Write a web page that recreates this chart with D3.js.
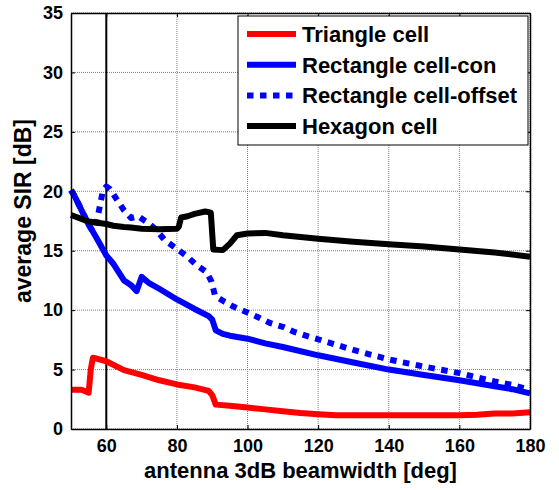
<!DOCTYPE html>
<html>
<head>
<meta charset="utf-8">
<script src="https://cdn.jsdelivr.net/npm/d3@7"></script>
<style>
  body { margin: 0; background: #fff; }
  text { font-family: "Liberation Sans", Arial, sans-serif; font-weight: bold; fill: #000; }
</style>
</head>
<body>
<div id="chart"></div>
<script>
var width = 559,
  height = 490;

var margin = { left: 71, top: 13, right: 29, bottom: 61 };
var w = width - margin.left - margin.right,
  h = height - margin.top - margin.bottom;

// data
var seriesNames = ["Triangle cell", "Rectangle cell-con", "Rectangle cell-offset", "Hexagon cell"];

var triX = [50, 53, 55, 55.6, 56.2, 60, 65, 70, 75, 80, 85, 89, 90, 91, 95, 100, 105, 110, 115, 120, 125, 130, 140, 150, 160, 165, 170, 175, 180];
var triY = [3.3, 3.3, 3.05, 5.0, 6.0, 5.7, 4.95, 4.55, 4.1, 3.75, 3.5, 3.2, 2.85, 2.05, 1.95, 1.8, 1.65, 1.5, 1.35, 1.25, 1.15, 1.15, 1.15, 1.15, 1.15, 1.2, 1.3, 1.3, 1.4];

var conX = [50, 51, 52, 53, 55, 56, 57, 60, 62, 65, 66, 67, 68.6, 70, 72, 75, 80, 85, 89, 90, 91, 93, 95, 100, 105, 110, 120, 130, 140, 150, 160, 170, 175, 180];
var conY = [20.1, 19.6, 19.0, 18.4, 17.2, 16.7, 16.2, 14.6, 13.9, 12.5, 12.3, 12.1, 11.6, 12.8, 12.3, 11.8, 10.9, 10.1, 9.5, 9.2, 8.3, 8.0, 7.85, 7.6, 7.2, 6.9, 6.2, 5.6, 5.0, 4.55, 4.1, 3.6, 3.35, 3.0];

var offX = [50, 51, 52, 53, 55, 56, 57, 58, 59, 60, 61, 63, 65, 67, 69, 72, 74, 76.5, 80, 83, 85.5, 88.4, 89.8, 90.8, 93.5, 96, 100, 103, 106.5, 110, 113, 116.5, 120, 130, 140, 150, 160, 170, 175, 180];
var offY = [20.1, 19.6, 19.0, 18.4, 17.2, 16.7, 17.0, 18.5, 20.0, 20.4, 20.2, 19.3, 18.4, 17.75, 17.9, 17.3, 16.8, 15.9, 15.15, 14.5, 13.8, 13.2, 12.4, 11.2, 10.7, 10.3, 9.8, 9.4, 8.9, 8.6, 8.2, 7.85, 7.55, 6.65, 5.85, 5.25, 4.7, 4.0, 3.7, 3.3];

var hexX = [50, 55, 60, 62, 65, 67, 70, 75, 80, 80.5, 81.2, 83, 85, 88, 89.6, 90.3, 93, 95, 97, 100, 105, 110, 120, 130, 140, 150, 160, 170, 180];
var hexY = [18.0, 17.45, 17.25, 17.1, 17.0, 16.95, 16.85, 16.8, 16.85, 17.0, 17.8, 17.9, 18.1, 18.3, 18.2, 15.1, 15.05, 15.6, 16.3, 16.45, 16.5, 16.3, 16.0, 15.75, 15.55, 15.35, 15.1, 14.85, 14.5];

var xTicks = [60, 80, 100, 120, 140, 160, 180];
var yTicks = [0, 5, 10, 15, 20, 25, 30, 35];

var series = [
  { name: seriesNames[0], x: triX, y: triY, color: "#ff0000", dash: null },
  { name: seriesNames[1], x: conX, y: conY, color: "#0000ff", dash: null },
  { name: seriesNames[2], x: offX, y: offY, color: "#0000ff", dash: "6.5,6.5" },
  { name: seriesNames[3], x: hexX, y: hexY, color: "#000000", dash: null }
];

var xScale = d3.scaleLinear().domain([50, 180]).range([0, w]);
var yScale = d3.scaleLinear().domain([0, 35]).range([h, 0]);

var svg = d3.select("#chart")
  .append("svg")
  .attr("width", width)
  .attr("height", height)
  .style("background", "#fff");

var g = svg.append("g")
  .attr("transform", "translate(" + margin.left + "," + margin.top + ")");

g.append("defs").append("clipPath").attr("id", "clip")
  .append("rect").attr("x", -3).attr("width", w + 6).attr("height", h);

// grid
g.selectAll(".gx").data(xTicks).enter().append("line")
  .attr("x1", function(d) { return xScale(d); })
  .attr("x2", function(d) { return xScale(d); })
  .attr("y1", 0).attr("y2", h)
  .attr("stroke", "#808080").attr("stroke-width", 1).attr("stroke-dasharray", "1,1");
g.selectAll(".gy").data(yTicks).enter().append("line")
  .attr("y1", function(d) { return yScale(d); })
  .attr("y2", function(d) { return yScale(d); })
  .attr("x1", 0).attr("x2", w)
  .attr("stroke", "#808080").attr("stroke-width", 1).attr("stroke-dasharray", "1,1");

// black marker line at 60 deg
g.append("line")
  .attr("x1", xScale(60)).attr("x2", xScale(60))
  .attr("y1", 0).attr("y2", h)
  .attr("stroke", "#000").attr("stroke-width", 2);

// curves
var line = d3.line()
  .x(function(d) { return xScale(d[0]); })
  .y(function(d) { return yScale(d[1]); });

series.forEach(function(s) {
  var pts = s.x.map(function(v, i) { return [v, s.y[i]]; });
  var p = g.append("path")
    .datum(pts)
    .attr("clip-path", "url(#clip)")
    .attr("d", line)
    .attr("fill", "none")
    .attr("stroke", s.color)
    .attr("stroke-width", 6)
    .attr("stroke-linejoin", "round");
  if (s.dash) p.attr("stroke-dasharray", s.dash);
});

// axes box + ticks (all four sides, inward)
var xAxisB = d3.axisBottom(xScale).tickValues(xTicks).tickSizeInner(-4).tickSizeOuter(0).tickPadding(10);
var xAxisT = d3.axisTop(xScale).tickValues(xTicks).tickSizeInner(-4).tickSizeOuter(0).tickFormat("");
var yAxisL = d3.axisLeft(yScale).tickValues(yTicks).tickSizeInner(-4).tickSizeOuter(0).tickPadding(8);
var yAxisR = d3.axisRight(yScale).tickValues(yTicks).tickSizeInner(-4).tickSizeOuter(0).tickFormat("");

function styleAxis(sel) {
  sel.select(".domain").attr("stroke", "#000").attr("stroke-width", 1.5);
  sel.selectAll(".tick line").attr("stroke", "#000");
  sel.selectAll("text").attr("font-size", "18px").attr("font-family", "Liberation Sans, Arial, sans-serif").attr("font-weight", "bold").attr("fill", "#000");
}

g.append("g").attr("transform", "translate(0," + h + ")").call(xAxisB).call(styleAxis);
g.append("g").call(xAxisT).call(styleAxis);
g.append("g").call(yAxisL).call(styleAxis);
g.append("g").attr("transform", "translate(" + w + ",0)").call(yAxisR).call(styleAxis);

// axis titles
svg.append("text")
  .attr("x", margin.left + w / 2)
  .attr("y", 478)
  .attr("text-anchor", "middle")
  .attr("font-size", "22px")
  .text("antenna 3dB beamwidth [deg]");

svg.append("text")
  .attr("transform", "translate(31," + 211 + ") rotate(-90)")
  .attr("text-anchor", "middle")
  .attr("font-size", "23px")
  .text("average SIR [dB]");

// legend
var legend = svg.append("g").attr("transform", "translate(238,16)");
legend.append("rect")
  .attr("width", 290).attr("height", 129)
  .attr("fill", "#fff").attr("stroke", "#000").attr("stroke-width", 1);

var rows = legend.selectAll(".row").data(series).enter().append("g")
  .attr("transform", function(d, i) { return "translate(0," + (18 + i * 30.7) + ")"; });

rows.append("line")
  .attr("x1", 9).attr("x2", 58)
  .attr("stroke", function(d) { return d.color; })
  .attr("stroke-width", 6)
  .attr("stroke-dasharray", function(d) { return d.dash; });

rows.append("text")
  .attr("x", 64)
  .attr("y", 8)
  .attr("font-size", "22px")
  .text(function(d) { return d.name; });
</script>
</body>
</html>
